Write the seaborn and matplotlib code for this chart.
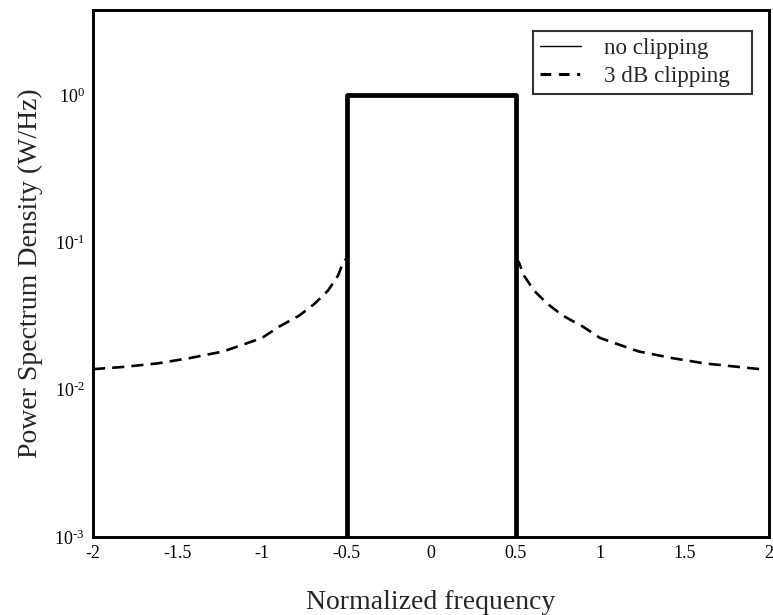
import matplotlib
matplotlib.use("Agg")
import matplotlib.pyplot as plt
import seaborn as sns
import pandas as pd
import numpy as np
from matplotlib.lines import Line2D
from matplotlib.ticker import FixedLocator, FuncFormatter, NullLocator

# --- data ---
rect_x = [-0.5, -0.5, 0.5, 0.5]
rect_y = [1e-3, 1.0, 1.0, 1e-3]

left_x = [-2.0, -1.82, -1.62, -1.43, -1.23, -1.1, -1.0, -0.9, -0.78,
          -0.69, -0.61, -0.55, -0.52, -0.5]
left_y = [0.0138, 0.0143, 0.0151, 0.0164, 0.0182, 0.0205, 0.0225, 0.0268,
          0.0319, 0.0383, 0.0471, 0.0597, 0.0735, 0.078]
right_x = [0.5, 0.52, 0.55, 0.61, 0.69, 0.78, 0.9, 1.0, 1.1, 1.23, 1.43,
           1.62, 1.82, 1.95]
right_y = [0.078, 0.0735, 0.0597, 0.0471, 0.0383, 0.0319, 0.0268, 0.0225,
           0.0205, 0.0182, 0.0164, 0.0151, 0.0143, 0.0138]

x_ticks = [-2, -1.5, -1, -0.5, 0, 0.5, 1, 1.5, 2]
x_tick_labels = ["-2", "-1.5", "-1", "-0.5", "0", "0.5", "1", "1.5", "2"]
y_ticks = [1e-3, 1e-2, 1e-1, 1e0]
series_labels = ["no clipping", "3 dB clipping"]

sns.set_style("white")
plt.rcParams["font.family"] = ["Liberation Serif", "DejaVu Serif"]
plt.rcParams["mathtext.fontset"] = "custom"
plt.rcParams["mathtext.rm"] = "Liberation Serif"
plt.rcParams["mathtext.it"] = "Liberation Serif:italic"

fig = plt.figure(figsize=(7.73, 6.15), dpi=100)
ax = fig.add_axes([93/773, (615-537)/615, 676/773, 527/615])

df_rect = pd.DataFrame({"x": rect_x, "y": rect_y})
df_l = pd.DataFrame({"x": left_x, "y": left_y})
df_r = pd.DataFrame({"x": right_x, "y": right_y})

sns.lineplot(data=df_rect, x="x", y="y", sort=False, estimator=None, ax=ax,
             color="black", linewidth=3.4, legend=False)
for d in (df_l, df_r):
    sns.lineplot(data=d, x="x", y="y", sort=False, estimator=None, ax=ax,
                 color="black", linewidth=1.9, legend=False)
for ln in ax.get_lines()[1:]:
    ln.set_dashes((4.6, 2.7))

ax.set_yscale("log")
ax.set_xlim(-2, 2)
ax.set_ylim(1e-3, 3.8)

ax.xaxis.set_major_locator(FixedLocator(x_ticks))
ax.set_xticklabels(x_tick_labels)
ax.yaxis.set_major_locator(FixedLocator(y_ticks))
ax.yaxis.set_minor_locator(NullLocator())
ax.yaxis.set_major_formatter(FuncFormatter(
    lambda v, p: r"10$^{\text{%d}}$" % int(round(np.log10(v)))))

ax.tick_params(axis="both", which="major", direction="in", length=9, width=1.2,
               labelsize=13, colors="black", pad=6)
for s in ax.spines.values():
    s.set_linewidth(2.1)
    s.set_color("black")

ax.set_xlabel("Normalized frequency", fontsize=20, labelpad=20)
ax.set_ylabel("Power Spectrum Density (W/Hz)", fontsize=20, labelpad=8)

handles = [Line2D([0], [0], color="black", linewidth=1.0),
           Line2D([0], [0], color="black", linewidth=2.2,
                  dashes=(3.5, 2.5, 3.5, 2.5, 1, 2.5))]
x0 = (533 - 93) / 676
w = (752 - 533) / 676
ytop = (537 - 31) / 527
leg = ax.legend(handles, series_labels, loc="upper left",
                bbox_to_anchor=(x0, ytop - 0.2, w, 0.2), mode="expand",
                fontsize=16.7, frameon=True, fancybox=False, handlelength=1.75,
                handletextpad=1.0, borderpad=0.3, labelspacing=0.3,
                borderaxespad=0)
leg.get_frame().set_edgecolor("black")
leg.get_frame().set_linewidth(1.5)

fig.savefig("out.png", dpi=100)
